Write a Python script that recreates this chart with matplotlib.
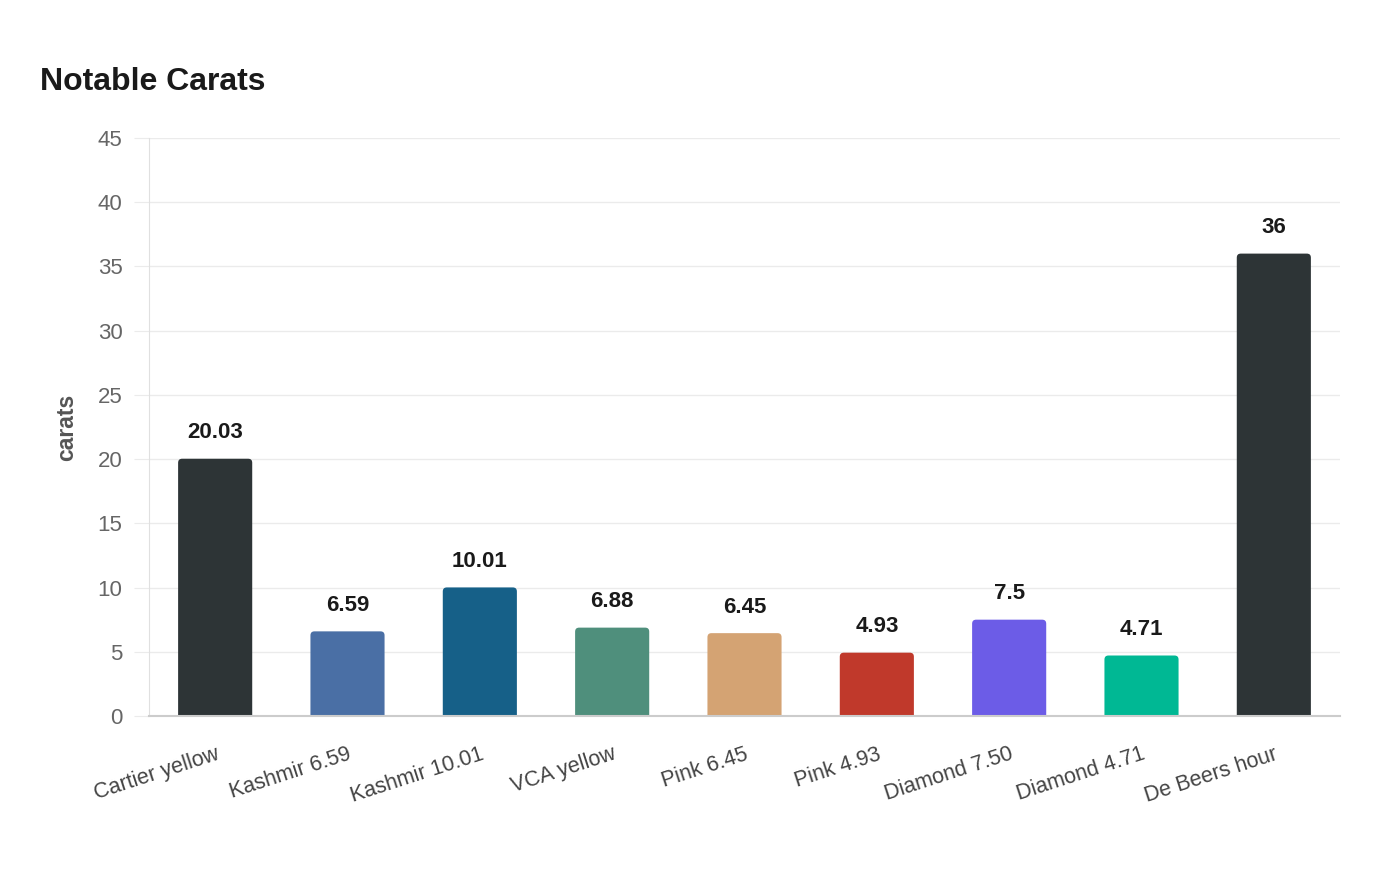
import matplotlib
matplotlib.use('Agg')
import matplotlib.pyplot as plt
from matplotlib.patches import FancyBboxPatch

plt.rcParams['font.family'] = ['Liberation Sans', 'DejaVu Sans']

# data
names = ['Cartier yellow', 'Kashmir 6.59', 'Kashmir 10.01', 'VCA yellow', 'Pink 6.45',
         'Pink 4.93', 'Diamond 7.50', 'Diamond 4.71', 'De Beers hour']
carats = [20.03, 6.59, 10.01, 6.88, 6.45, 4.93, 7.5, 4.71, 36]
value_labels = ['20.03', '6.59', '10.01', '6.88', '6.45', '4.93', '7.5', '4.71', '36']
colors = ['#2d3436', '#4a6fa5', '#166088', '#4f8f7c', '#d4a373',
          '#c0392b', '#6c5ce7', '#00b894', '#2d3436']

fig = plt.figure(figsize=(14, 8.8), dpi=100)
ax = fig.add_axes([149/1400, 1-716/880, 1191/1400, 578/880])

ax.set_xlim(-0.5, len(names) - 0.5)
ax.set_ylim(0, 45)

bar_w = 0.56
# x data units per px vs y data units per px
px_x = len(names) / 1191
px_y = 45 / 578
for i, (v, c) in enumerate(zip(carats, colors)):
    p = FancyBboxPatch((i - bar_w/2, -1), bar_w, v + 1,
                       boxstyle="round,pad=0,rounding_size=%f" % (4 * px_x),
                       mutation_aspect=px_y / px_x,
                       facecolor=c, edgecolor='none', zorder=3)
    ax.add_patch(p)
    ax.annotate(value_labels[i], (i, v), xytext=(0, 11), textcoords='offset points',
                ha='center', va='bottom', fontsize=16, fontweight='bold', color='#1a1a1a')

ax.set_xticks(range(len(names)))
ax.set_xticklabels(names, rotation=18, ha='right', rotation_mode='anchor',
                   fontsize=15.5, color='#444444')
ax.tick_params(axis='x', length=0, pad=20)

ax.set_yticks(range(0, 46, 5))
ax.tick_params(axis='y', length=11, color='#ebebeb', labelsize=16, labelcolor='#666666', pad=8)
ax.grid(axis='y', color='#ebebeb', linewidth=1, zorder=0)
ax.set_axisbelow(True)

for s in ['top', 'right']:
    ax.spines[s].set_visible(False)
ax.spines['left'].set_color('#e0e0e0')
ax.spines['bottom'].set_color('#cccccc')
ax.spines['bottom'].set_linewidth(1.5)
ax.spines['bottom'].set_zorder(4)

ax.set_ylabel('carats', fontsize=16.5, fontweight='bold', color='#555555', labelpad=14)

fig.text(40/1400, 1-82/880, 'Notable Carats', fontsize=23, fontweight='bold',
         color='#1a1a1a', va='center', ha='left')

fig.savefig('out.png', dpi=100, facecolor='white')
